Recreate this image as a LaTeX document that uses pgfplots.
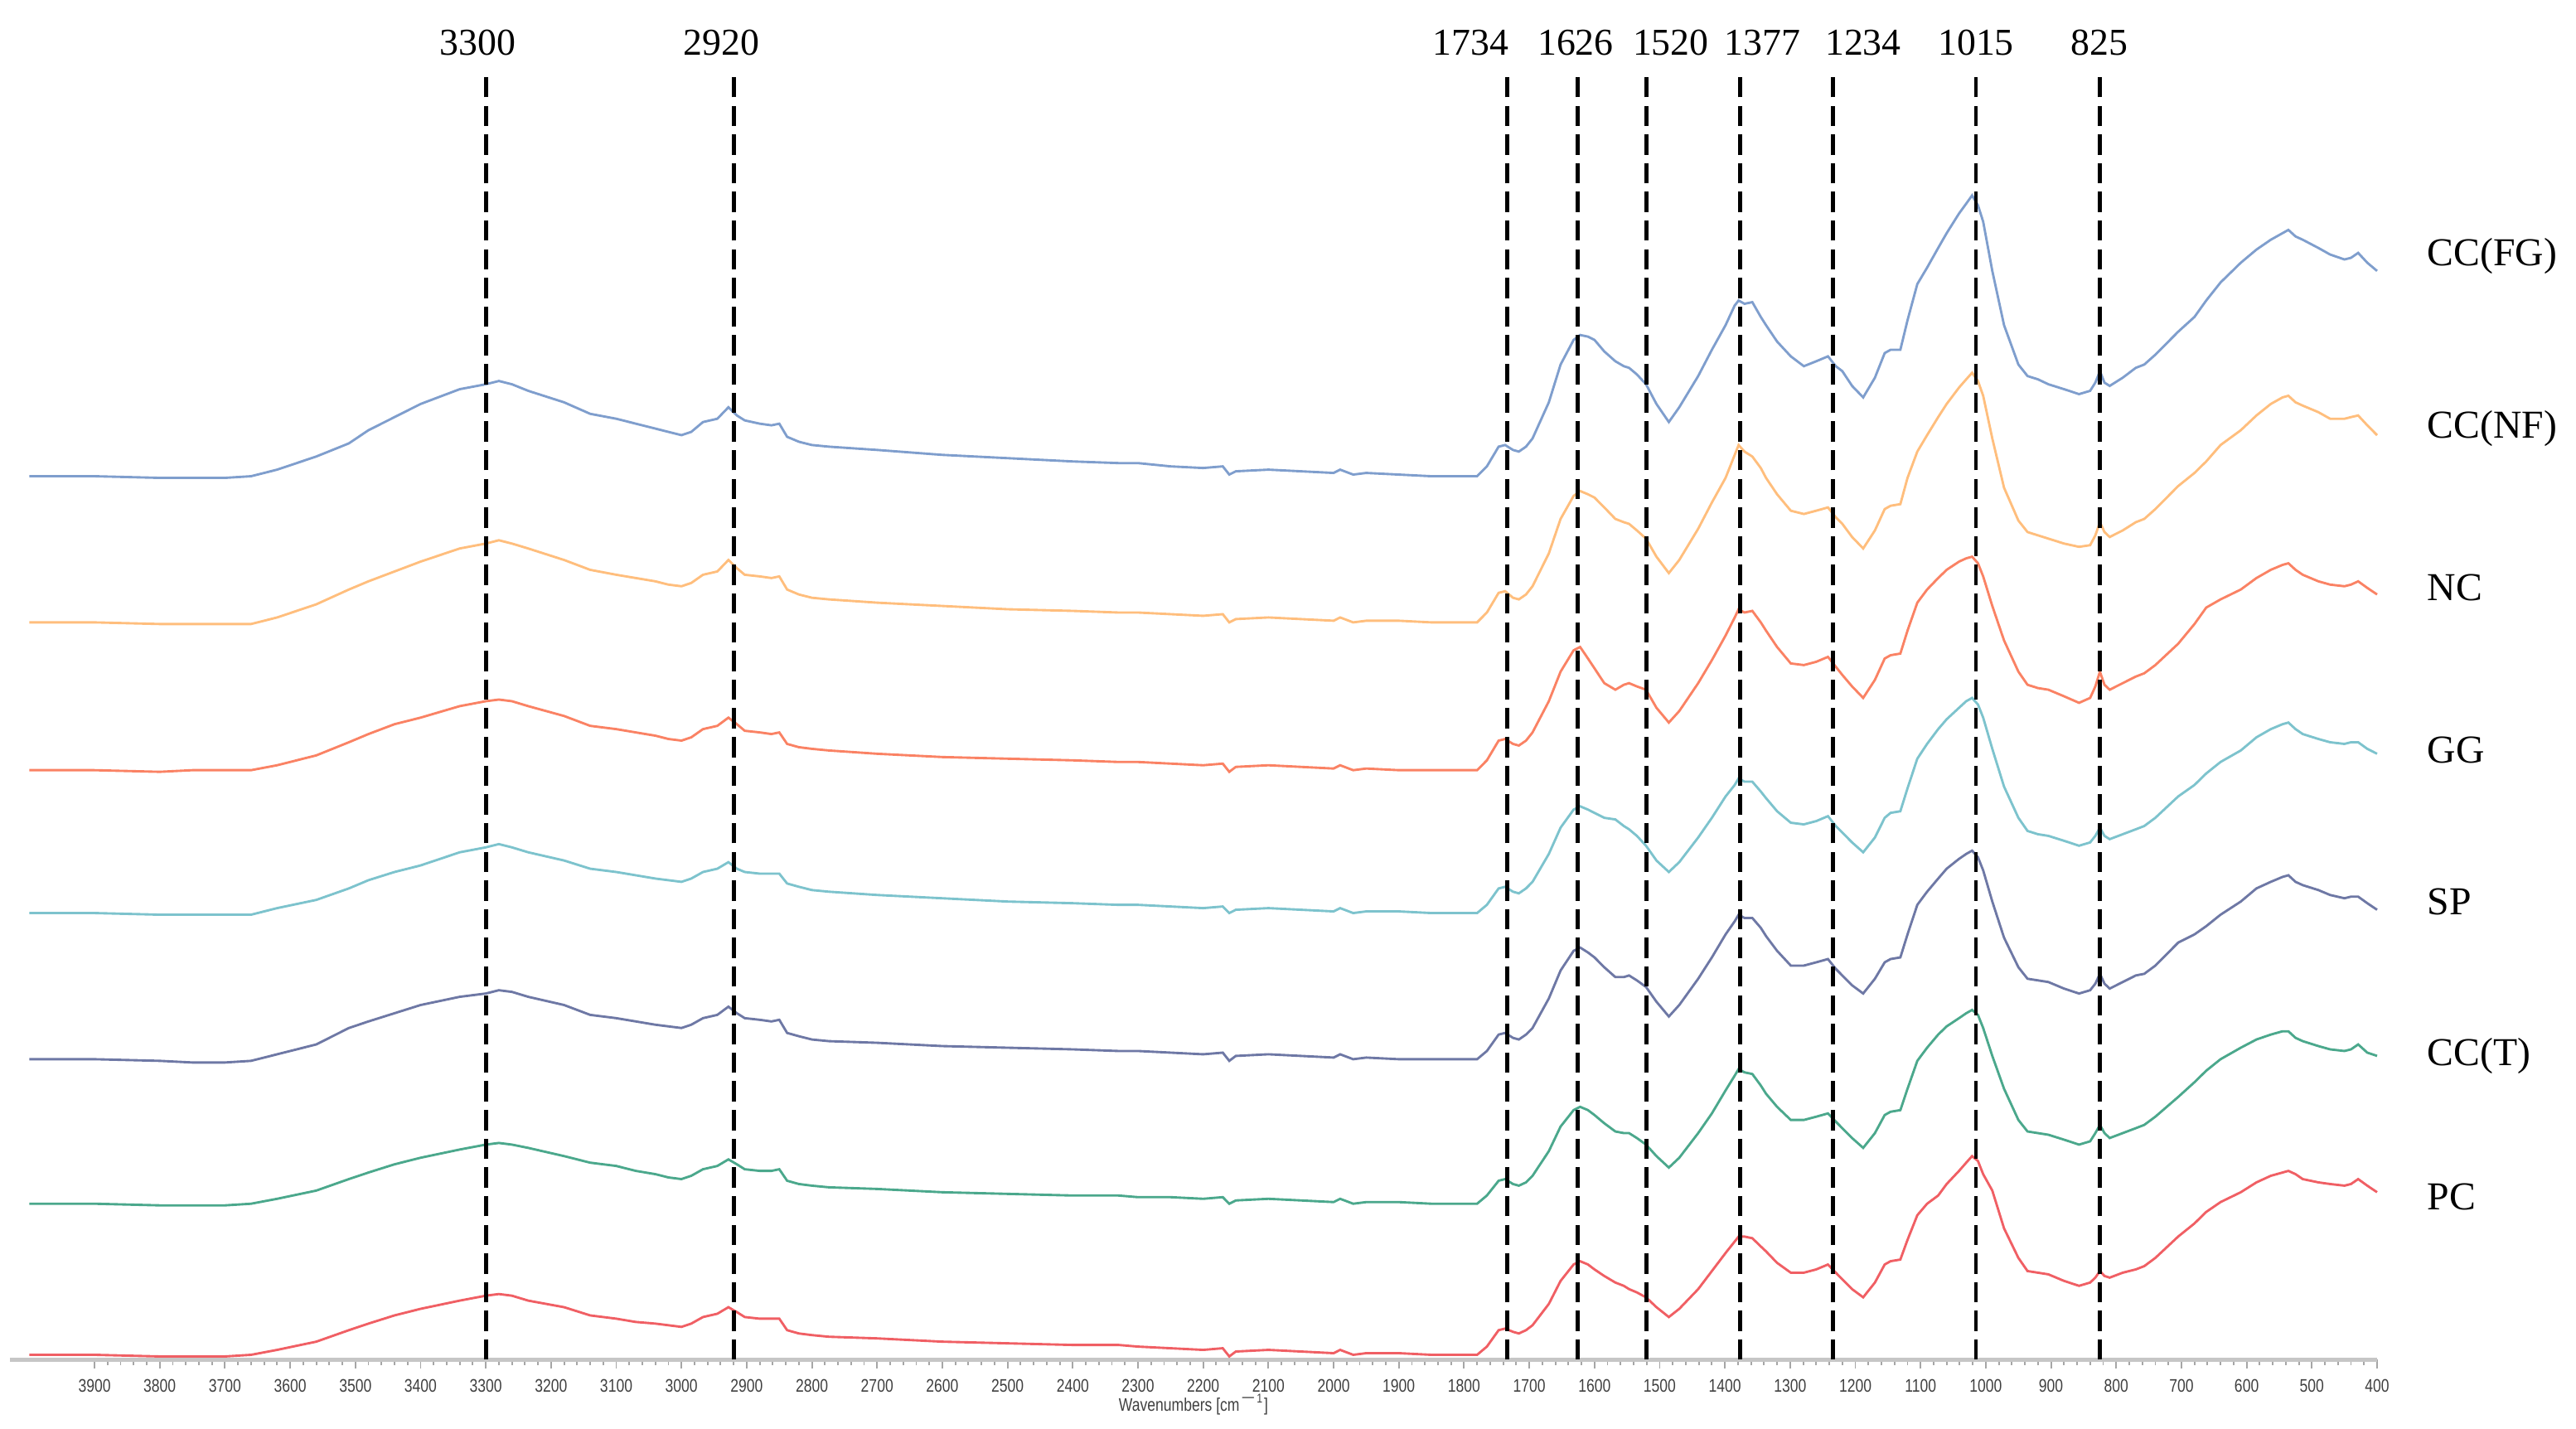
\documentclass[border=0pt]{standalone}
\usepackage{fontspec}
\setmainfont{Liberation Serif}
\setsansfont{Liberation Sans}
\usepackage{pgfplots}
\usepackage{pgfplotstable}
\pgfplotsset{compat=1.18}

\definecolor{cFG}{HTML}{7F9ECD}
\definecolor{cNF}{HTML}{FFBE7D}
\definecolor{cNC}{HTML}{FA8264}
\definecolor{cGG}{HTML}{7DC3CD}
\definecolor{cSP}{HTML}{6E78A5}
\definecolor{cCT}{HTML}{4BA88C}
\definecolor{cPC}{HTML}{F05F64}

% band heights above each trace's own baseline (arbitrary units)
\pgfplotstableread{
wn   fg  nf  nc  gg  sp  ct  pc
4000 0   0   0   0   0   0   0
3900 0   0   0   0   0   0   0
3800 -1  -1  -1  -1  -1  -1  -1
3750 -1  -1  0   -1  -2  -1  -1
3700 -1  -1  0   -1  -2  -1  -1
3660 0   -1  0   -1  -1  0   0
3620 4   3   3   3   3   3   3
3560 12  11  9   8   9   8   8
3510 20  20  17  15  19  15  15
3480 28  25  22  20  23  19  19
3440 36  31  28  25  28  24  24
3400 44  37  32  29  33  28  28
3340 53  45  39  37  38  33  33
3300 56  48  42  40  40  36  36
3280 58  50  43  42  42  37  37
3260 56  48  42  40  41  36  36
3235 52  45  39  37  38  34  33
3180 45  38  33  32  33  29  29
3140 38  32  27  27  27  25  24
3100 35  29  25  25  25  23  22
3070 32  27  23  23  23  20  20
3040 29  25  21  21  21  18  19
3020 27  23  19  20  20  16  18
3000 25  22  18  19  19  15  17
2985 27  24  20  21  21  17  19
2967 33  29  25  25  25  21  23
2945 35  31  27  27  27  23  25
2928 42  38  32  31  32  27  29
2915 37  33  28  27  28  24  26
2903 34  29  24  25  25  21  23
2880 32  28  23  24  24  20  22
2862 31  27  22  24  23  20  22
2850 32  28  23  24  24  21  22
2838 24  20  16  18  16  14  15
2820 21  17  14  16  14  12  13
2800 19  15  13  14  12  11  12
2774 18  14  12  13  11  10  11
2700 16  12  10  11  10  9   10
2600 13  10  8   9   8   7   8
2500 11  8   7   7   7   6   7
2400 9   7   6   6   6   5   6
2330 8   6   5   5   5   5   6
2300 8   6   5   5   5   4   5
2250 6   5   4   4   4   4   4
2200 5   4   3   3   3   3   3
2170 6   5   4   4   4   4   4
2160 1   0   -1  0   -1  0   -1
2150 3   2   2   2   2   2   2
2100 4   3   3   3   3   3   3
2050 3   2   2   2   2   2   2
2000 2   1   1   1   1   1   1
1990 4   3   3   3   3   3   3
1970 1   0   0   0   0   0   0
1950 2   1   1   1   1   1   1
1900 1   1   0   1   0   1   1
1850 0   0   0   0   0   0   0
1800 0   0   0   0   0   0   0
1780 0   0   0   0   0   0   0
1765 6   6   6   5   5   5   5
1747 18  18  18  15  15  14  15
1737 19  19  19  16  16  15  16
1725 16  15  16  13  13  12  14
1716 15  14  15  12  12  11  13
1705 18  17  18  15  15  13  15
1695 23  22  23  19  19  17  18
1670 45  42  42  36  37  32  31
1652 68  63  60  52  54  47  45
1632 83  77  73  63  66  57  55
1622 86  80  75  65  68  59  57
1610 85  78  68  63  65  57  55
1600 83  76  62  61  62  54  52
1585 76  70  53  58  56  49  48
1568 70  63  49  57  50  44  44
1555 67  61  52  53  50  43  42
1547 66  60  53  51  51  43  40
1535 62  56  51  47  48  40  38
1521 56  51  49  41  44  36  35
1505 44  40  38  32  35  29  29
1486 33  30  29  25  26  22  23
1470 42  38  36  31  33  28  28
1441 61  57  53  46  49  43  40
1420 77  73  67  58  62  55  51
1399 92  88  82  71  76  69  62
1385 104 102 93  78  84  78  69
1379 107 108 98  82  88  82  72
1370 105 104 96  80  86  80  72
1358 106 101 97  80  86  79  71
1345 97  94  90  74  80  72  66
1337 92  88  85  70  75  67  63
1320 82  78  75  62  66  59  56
1299 73  68  65  55  57  51  50
1279 67  66  64  54  57  51  50
1260 70  68  66  56  59  53  52
1242 73  70  69  59  61  55  55
1230 67  64  63  53  55  50  50
1220 64  60  58  49  51  46  46
1205 55  52  51  43  45  40  40
1188 48  45  44  37  40  34  35
1170 60  56  55  46  49  43  44
1155 75  69  68  58  59  54  55
1146 77  71  70  61  61  56  57
1131 77  72  71  62  62  57  58
1120 95  88  85  76  76  70  70
1105 117 104 102 94  94  87  85
1090 127 114 110 103 102 95  92
1073 139 125 117 112 110 103 97
1060 148 133 122 118 116 108 104
1041 160 143 127 125 122 113 112
1030 166 148 129 129 125 116 117
1021 171 152 130 131 127 118 121
1012 165 147 126 127 123 115 118
1004 155 138 118 119 115 107 110
990  125 112 100 100 96  90  100
972  92  82  79  77  74  70  77
950  68  62  60  58  56  51  59
936  61  55  52  50  49  44  51
920  59  53  50  48  48  43  50
904  56  51  49  47  47  42  49
880  53  48  45  44  43  39  45
857  50  46  41  41  40  36  42
840  52  47  44  43  42  38  44
832  57  53  51  47  46  43  47
825  64  61  60  52  52  48  51
818  57  55  52  47  46  43  48
810  55  52  49  45  43  40  47
790  60  56  53  48  47  43  50
770  66  61  57  51  51  46  52
757  68  63  59  53  52  48  54
740  74  69  64  58  57  53  59
705  88  83  77  71  71  65  72
680  97  91  89  78  76  74  80
662  107 98  99  85  81  81  87
640  118 108 104 92  88  88  93
609  130 117 110 99  96  95  99
585  138 126 117 107 104 100 105
563  144 133 122 112 108 103 109
545  148 137 125 115 111 105 111
536  150 138 126 116 112 105 112
525  146 134 122 112 108 101 110
514  144 132 119 109 106 99  107
490  139 128 115 106 103 96  105
472  135 124 113 104 100 94  104
450  132 124 112 103 98  93  103
440  133 125 113 104 99  94  104
429  136 126 115 104 99  97  107
415  130 120 111 100 95  92  103
400  125 114 107 97  91  90  99
}\spec

\begin{document}
\begin{tikzpicture}
\begin{axis}[
  scale only axis,
  width=21.04cm, height=11.53cm,
  x dir=reverse,
  xmin=400, xmax=4030,
  ymin=0, ymax=790,
  axis x line*=bottom,
  axis y line=none,
  axis line style={gray!45, line width=0.9pt},
  xtick={400,500,...,3900},
  minor x tick num=4,
  tick align=outside,
  major tick length=0.08cm,
  minor tick length=0.05cm,
  every tick/.style={gray!70, line width=0.4pt},
  ytick=\empty,
  xticklabel style={font=\sffamily\fontsize{4.6}{5}\selectfont, text=black!75, xscale=0.8, yshift=0.03cm},
  /pgf/number format/1000 sep={},
  /pgf/number format/assume math mode=true,
  xlabel={Wavenumbers [cm\textsuperscript{$-$1}]},
  xlabel style={font=\sffamily\fontsize{4.6}{5}\selectfont, text=black!75, xscale=0.8,
    at={(axis description cs:0.5,0)}, anchor=center, yshift=-0.38cm},
  clip=false,
]
\path (axis cs:4045,-42) rectangle (axis cs:95,828);

\addplot[cFG, line width=0.6pt] table[x=wn, y expr=\thisrow{fg}+538] {\spec};
\addplot[cNF, line width=0.6pt] table[x=wn, y expr=\thisrow{nf}+449] {\spec};
\addplot[cNC, line width=0.6pt] table[x=wn, y expr=\thisrow{nc}+359] {\spec};
\addplot[cGG, line width=0.6pt] table[x=wn, y expr=\thisrow{gg}+272] {\spec};
\addplot[cSP, line width=0.6pt] table[x=wn, y expr=\thisrow{sp}+183] {\spec};
\addplot[cCT, line width=0.6pt] table[x=wn, y expr=\thisrow{ct}+95] {\spec};
\addplot[cPC, line width=0.6pt] table[x=wn, y expr=\thisrow{pc}+3] {\spec};

% marked bands
\pgfplotsinvokeforeach{3300,2920,1734,1626,1520,1377,1234,1015,825}{
  \draw[black, line width=1pt, dash pattern=on 0.18cm off 0.075cm]
    (axis cs:#1,0) -- (axis cs:#1,785);
}
% band labels, nudged apart where the lines are close
\begin{scope}[every node/.style={font=\fontsize{9.6}{12}\selectfont, inner sep=0pt}]
\node at (axis cs:3312,802) {3300};
\node at (axis cs:2939,802) {2920};
\node at (axis cs:1790,802) {1734};
\node at (axis cs:1629,802) {1626};
\node at (axis cs:1483,802) {1520};
\node at (axis cs:1342,802) {1377};
\node at (axis cs:1188,802) {1234};
\node at (axis cs:1015,802) {1015};
\node at (axis cs:826,802) {825};
\end{scope}

% sample names
\begin{scope}[every node/.style={font=\fontsize{10}{12}\selectfont, anchor=west, inner sep=0pt}]
\node at (axis cs:324,672) {CC(FG)};
\node at (axis cs:324,567) {CC(NF)};
\node at (axis cs:324,470) {NC};
\node at (axis cs:324,371) {GG};
\node at (axis cs:324,279) {SP};
\node at (axis cs:324,185) {CC(T)};
\node at (axis cs:324,99) {PC};
\end{scope}
\end{axis}
\end{tikzpicture}
\end{document}
